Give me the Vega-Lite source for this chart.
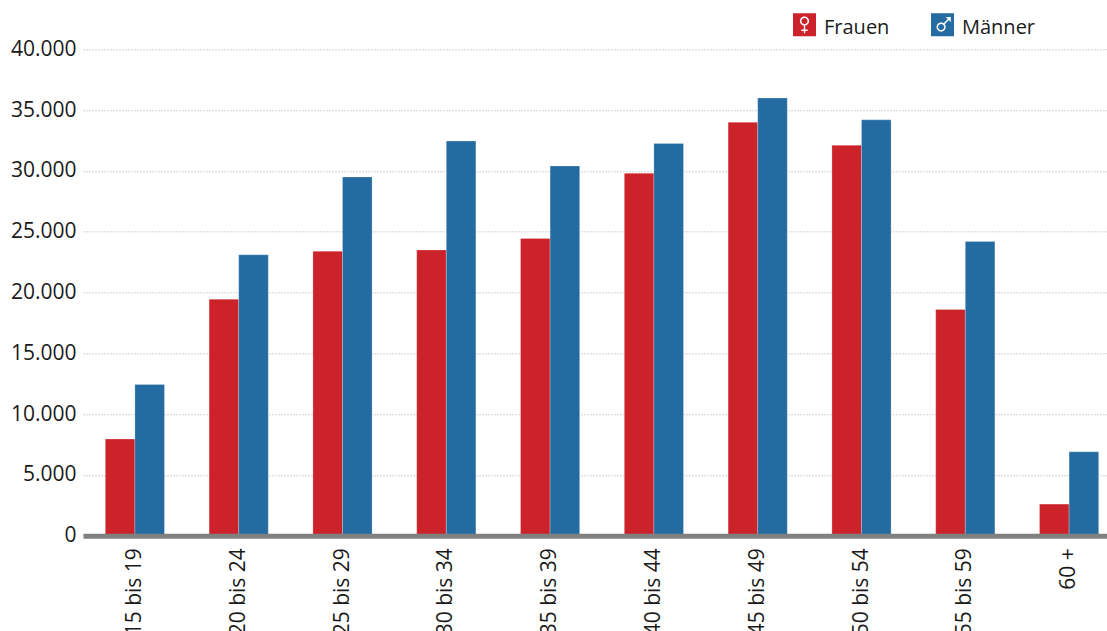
{
"$schema":"https://vega.github.io/schema/vega-lite/v6.json",
"autosize":{"type":"none"},
"padding":{"left":83,"top":49.3,"right":0,"bottom":95.3},
"width":1024,
"height":486.4,
"background":"white",
"config":{"view":{"stroke":null},"font":"Open Sans"},
"data":{"values":[
{"alter":"15 bis 19","geschlecht":"Frauen","anzahl":7950},
{"alter":"15 bis 19","geschlecht":"Männer","anzahl":12430},
{"alter":"20 bis 24","geschlecht":"Frauen","anzahl":19450},
{"alter":"20 bis 24","geschlecht":"Männer","anzahl":23100},
{"alter":"25 bis 29","geschlecht":"Frauen","anzahl":23400},
{"alter":"25 bis 29","geschlecht":"Männer","anzahl":29500},
{"alter":"30 bis 34","geschlecht":"Frauen","anzahl":23500},
{"alter":"30 bis 34","geschlecht":"Männer","anzahl":32450},
{"alter":"35 bis 39","geschlecht":"Frauen","anzahl":24450},
{"alter":"35 bis 39","geschlecht":"Männer","anzahl":30400},
{"alter":"40 bis 44","geschlecht":"Frauen","anzahl":29800},
{"alter":"40 bis 44","geschlecht":"Männer","anzahl":32250},
{"alter":"45 bis 49","geschlecht":"Frauen","anzahl":34000},
{"alter":"45 bis 49","geschlecht":"Männer","anzahl":36000},
{"alter":"50 bis 54","geschlecht":"Frauen","anzahl":32100},
{"alter":"50 bis 54","geschlecht":"Männer","anzahl":34200},
{"alter":"55 bis 59","geschlecht":"Frauen","anzahl":18600},
{"alter":"55 bis 59","geschlecht":"Männer","anzahl":24200},
{"alter":"60 +","geschlecht":"Frauen","anzahl":2600},
{"alter":"60 +","geschlecht":"Männer","anzahl":6900}
]},
"mark":{"type":"bar","stroke":"#ffffff","strokeOpacity":0.35,"strokeWidth":0.7},
"encoding":{
"x":{"field":"alter","type":"nominal","sort":null,
"scale":{"range":[0,1038],"paddingInner":0.43,"paddingOuter":0.215},
"axis":{"title":null,"labelAngle":-90,"labelAlign":"right","labelBaseline":"middle","labelFontSize":21,"labelColor":"#1a1a1a","labelPadding":12,"ticks":false,"domainColor":"#808080","domainWidth":5,"zindex":1,"labelOverlap":false,"labelBound":false,"labelFlush":false}},
"xOffset":{"field":"geschlecht","type":"nominal","sort":["Frauen","Männer"]},
"y":{"field":"anzahl","type":"quantitative",
"scale":{"domain":[0,40000],"nice":false},
"axis":{"title":null,"values":[0,5000,10000,15000,20000,25000,30000,35000,40000],"format":",d","labelExpr":"replace(datum.label, ',', '.')","labelFontSize":21,"labelColor":"#1a1a1a","labelPadding":7,"ticks":false,"domain":false,"grid":true,"gridColor":"#a8a8a8","gridDash":[1,2],"gridWidth":1}},
"color":{"field":"geschlecht","type":"nominal",
"scale":{"domain":["Frauen","Männer"],"range":["#cc2229","#236ba0"]},
"legend":{"title":null,"orient":"none","legendX":710,"legendY":-36.3,"direction":"horizontal","columns":2,"padding":0,"columnPadding":41,"labelOffset":8,"labelFontSize":20,"labelColor":"#1a1a1a","symbolSize":529,"symbolStrokeWidth":0,"symbolType":"square","symbolOpacity":1,
"encoding":{"labels":{"dy":{"value":3}},"symbols":{"shape":{"value":{"expr":"datum.value === 'Frauen' ? 'M-1,-1 L1,-1 L1,1 L-1,1 Z M-0.4,-0.32 A0.4,0.4 0 1 0 0.4,-0.32 A0.4,0.4 0 1 0 -0.4,-0.32 Z M-0.27,-0.32 A0.27,0.27 0 1 1 0.27,-0.32 A0.27,0.27 0 1 1 -0.27,-0.32 Z M-0.06,0.09 L-0.06,0.42 L-0.28,0.42 L-0.28,0.54 L-0.06,0.54 L-0.06,0.74 L0.06,0.74 L0.06,0.54 L0.28,0.54 L0.28,0.42 L0.06,0.42 L0.06,0.09 Z' : 'M-1,-1 L1,-1 L1,1 L-1,1 Z M-0.52,0.2 A0.4,0.4 0 1 0 0.28,0.2 A0.4,0.4 0 1 0 -0.52,0.2 Z M-0.39,0.2 A0.27,0.27 0 1 1 0.15,0.2 A0.27,0.27 0 1 1 -0.39,0.2 Z M0.72,-0.68 L0.26,-0.68 L0.46,-0.5 L0.1,-0.14 L0.19,-0.05 L0.55,-0.41 L0.72,-0.22 Z'"}}}}}}
}
}
